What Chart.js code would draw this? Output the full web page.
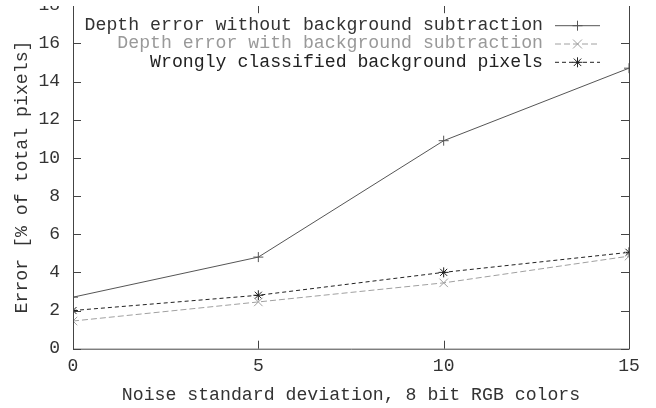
<!DOCTYPE html>
<html>
<head>
<meta charset="utf-8">
<script src="https://cdn.jsdelivr.net/npm/chart.js@4/dist/chart.umd.min.js"></script>
<style>
html, body { margin: 0; padding: 0; background: #fff; overflow: hidden; }
/* canvas is shifted up so the top "18" label gets cut like in the original */
#wrap { position: absolute; left: 0; top: -20px; width: 656px; height: 428px; }
/* the original scan has a blank strip along the top edge */
#topband { position: absolute; left: 0; top: 0; width: 656px; height: 6px; background: #fff; }
</style>
</head>
<body>
<div id="wrap"><canvas id="noiseChart" width="656" height="428"></canvas></div>
<div id="topband"></div>
<script>
/* data */
const noiseLevels = [0, 5, 10, 15];
const errNoSubtraction = [2.7, 4.8, 10.9, 14.7];
const errWithSubtraction = [1.45, 2.45, 3.45, 4.85];
const wrongBackground = [2.0, 2.8, 4.0, 5.05];
const seriesLabels = [
    "Depth error without background subtraction",
    "Depth error with background subtraction",
    "Wrongly classified background pixels"
];

const MONO = "'Liberation Mono', 'DejaVu Sans Mono', monospace";
const AXIS_COLOR = "#444";

function toPoints(vals) {
    return vals.map((v, i) => ({ x: noiseLevels[i], y: v }));
}

function drawMarker(ctx, style, x, y, r) {
    ctx.beginPath();
    if (style === 'cross' || style === 'star') {
        ctx.moveTo(x - r, y); ctx.lineTo(x + r, y);
        ctx.moveTo(x, y - r); ctx.lineTo(x, y + r);
    }
    if (style === 'crossRot' || style === 'star') {
        const d = r * 0.75;
        ctx.moveTo(x - d, y - d); ctx.lineTo(x + d, y + d);
        ctx.moveTo(x - d, y + d); ctx.lineTo(x + d, y - d);
    }
    ctx.stroke();
}

// gnuplot-like frame: borders plus inward ticks (mirrored)
const framePlugin = {
    id: 'frame',
    afterDraw(chart) {
        const ctx = chart.ctx;
        const a = chart.chartArea;
        const xs = chart.scales.x, ys = chart.scales.y;
        const tl = 8;
        ctx.save();
        ctx.strokeStyle = AXIS_COLOR;
        ctx.lineWidth = 1;
        ctx.setLineDash([]);
        ctx.beginPath();
        ctx.moveTo(a.left + 0.5, a.top);
        ctx.lineTo(a.left + 0.5, a.bottom + 0.5);
        ctx.lineTo(a.right + 0.5, a.bottom + 0.5);
        ctx.lineTo(a.right + 0.5, a.top);
        xs.ticks.forEach(t => {
            const px = Math.round(xs.getPixelForValue(t.value)) + 0.5;
            ctx.moveTo(px, a.bottom); ctx.lineTo(px, a.bottom - tl);
            ctx.moveTo(px, a.top); ctx.lineTo(px, a.top + tl);
        });
        ys.ticks.forEach(t => {
            const py = Math.round(ys.getPixelForValue(t.value)) + 0.5;
            ctx.moveTo(a.left, py); ctx.lineTo(a.left + tl, py);
            ctx.moveTo(a.right, py); ctx.lineTo(a.right - tl, py);
        });
        ctx.stroke();

        // legend, top right inside the plot, text right-aligned with sample after it
        const textRight = a.right - 86;
        const sampleL = a.right - 74, sampleR = a.right - 29;
        let rowY = a.top + 20;
        ctx.font = "18.2px " + MONO;
        ctx.textAlign = 'right';
        ctx.textBaseline = 'middle';
        chart.data.datasets.forEach(ds => {
            ctx.fillStyle = ds.legendColor;
            ctx.fillText(ds.label, textRight, rowY);
            ctx.strokeStyle = ds.borderColor;
            ctx.lineWidth = 1;
            ctx.setLineDash(ds.borderDash || []);
            ctx.beginPath();
            ctx.moveTo(sampleL, rowY + 0.5);
            ctx.lineTo(sampleR, rowY + 0.5);
            ctx.stroke();
            ctx.setLineDash([]);
            drawMarker(ctx, ds.pointStyle, (sampleL + sampleR) / 2, rowY + 0.5, ds.pointRadius);
            rowY += 18.3;
        });
        ctx.restore();
    }
};

const chart = new Chart(document.getElementById("noiseChart"), {
    type: 'line',
    data: {
        datasets: [
            {
                label: seriesLabels[0],
                data: toPoints(errNoSubtraction),
                borderColor: "#555",
                legendColor: "#333",
                borderWidth: 1,
                pointStyle: 'cross',
                pointRadius: 5,
                pointBorderColor: "#555",
                pointBorderWidth: 1,
                fill: false,
                tension: 0
            },
            {
                label: seriesLabels[1],
                data: toPoints(errWithSubtraction),
                borderColor: "#a0a0a0",
                legendColor: "#999",
                borderWidth: 1,
                borderDash: [6, 3],
                pointStyle: 'crossRot',
                pointRadius: 6,
                pointBorderColor: "#a0a0a0",
                pointBorderWidth: 1,
                fill: false,
                tension: 0
            },
            {
                label: seriesLabels[2],
                data: toPoints(wrongBackground),
                borderColor: "#222",
                legendColor: "#222",
                borderWidth: 1,
                borderDash: [4, 3],
                pointStyle: 'star',
                pointRadius: 5,
                pointBorderColor: "#222",
                pointBorderWidth: 1,
                fill: false,
                tension: 0
            }
        ]
    },
    options: {
        responsive: false,
        animation: false,
        devicePixelRatio: 1,
        layout: { padding: { left: 0, right: 27, top: 25.2, bottom: 0 } },
        plugins: {
            legend: { display: false },
            tooltip: { enabled: false }
        },
        scales: {
            x: {
                type: 'linear',
                min: 0, max: 15,
                grid: { display: false, drawTicks: false },
                border: { display: false },
                ticks: {
                    stepSize: 5,
                    padding: 7,
                    color: "#333",
                    font: { family: MONO, size: 18 }
                },
                title: {
                    display: true,
                    text: "Noise standard deviation, 8 bit RGB colors",
                    color: "#333",
                    font: { family: MONO, size: 18.2 },
                    padding: { top: 0, bottom: 2 }
                },
                afterFit(scale) { scale.height = 59.3; }
            },
            y: {
                min: 0, max: 18,
                grid: { display: false, drawTicks: false },
                border: { display: false },
                ticks: {
                    stepSize: 2,
                    padding: 13,
                    color: "#333",
                    font: { family: MONO, size: 18 }
                },
                title: {
                    display: true,
                    text: "Error [% of total pixels]",
                    color: "#333",
                    font: { family: MONO, size: 18.2 },
                    padding: { top: 11, bottom: 0 }
                },
                afterFit(scale) { scale.width = 73; }
            }
        }
    },
    plugins: [framePlugin]
});
</script>
</body>
</html>
